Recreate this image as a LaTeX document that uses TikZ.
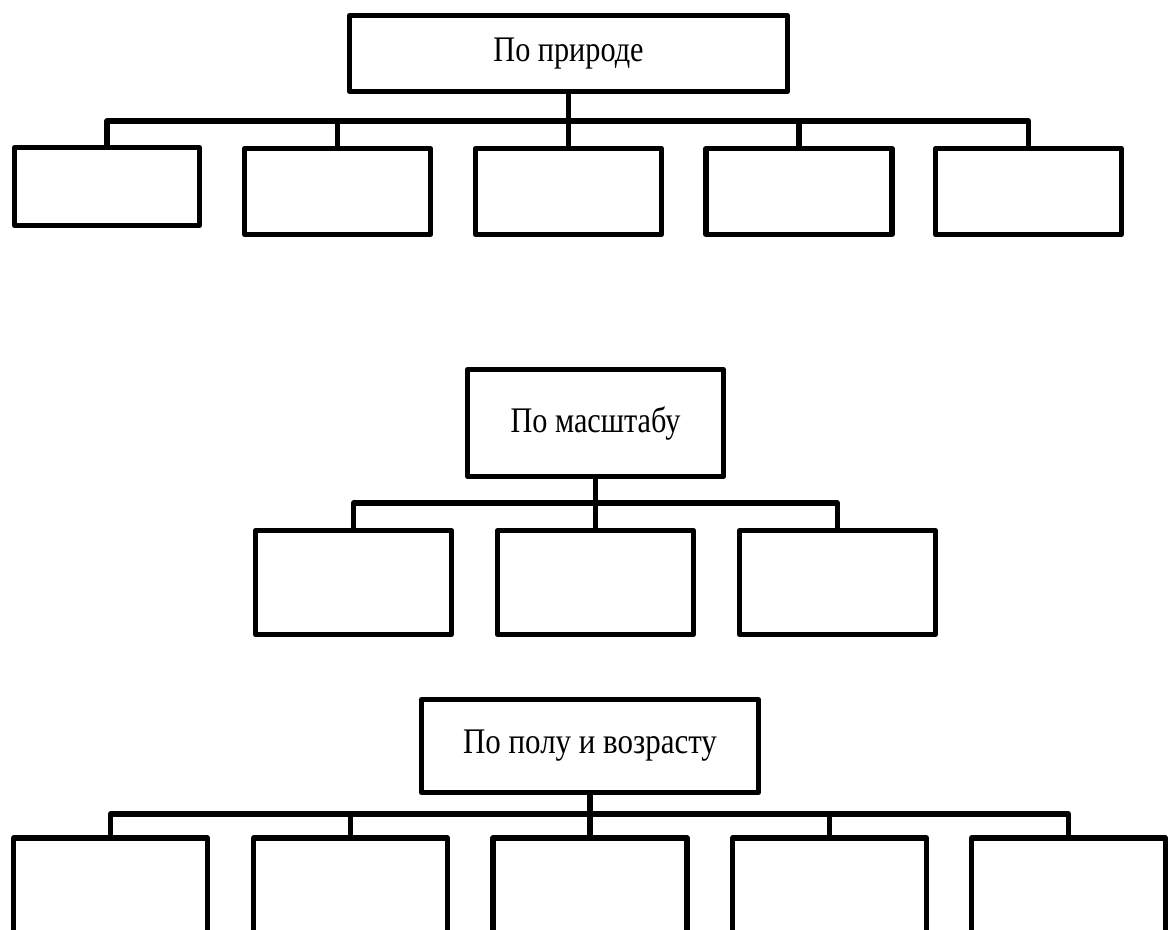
\documentclass[tikz,border=0pt]{standalone}
\usepackage{fontspec}
\setmainfont{Liberation Serif}
\usepackage{tikz}

\begin{document}
\begin{tikzpicture}[x=0.75pt,y=-0.75pt]

\tikzstyle{blk}=[draw,line width=3.8pt,line join=round,inner sep=0pt,font=\fontsize{27}{30}\selectfont]
\tikzstyle{lnk}=[line width=3.8pt,line join=round]

\clip (0,0) rectangle (1173,929);

% po prirode
\node[blk,minimum width=328.5pt,minimum height=57pt] (pr) at (568.5,53.5) {\scalebox{.84}[1]{По природе}};
\node[blk,minimum width=138.75pt,minimum height=58.5pt] (p1) at (107,186.5) {};
\node[blk,minimum width=139.5pt,minimum height=64.5pt] (p2) at (337.5,191.5) {};
\node[blk,minimum width=139.5pt,minimum height=64.5pt] (p3) at (568.5,191.5) {};
\node[blk,minimum width=139.5pt,minimum height=64.5pt] (p4) at (799,191.5) {};
\node[blk,minimum width=139.5pt,minimum height=64.5pt] (p5) at (1028.5,191.5) {};
\coordinate (bp) at (568.5,121);

\draw[lnk] (pr.south) -- (bp);
\draw[lnk] (p1.north) |- (bp) -| (p5.north);
\foreach \k in {2,3,4} \draw[lnk] (p\k.north) -- (p\k.north |- bp);

% po masshtabu
\node[blk,minimum width=192pt,minimum height=80.25pt] (ms) at (595.5,423) {\scalebox{.84}[1]{По масштабу}};
\node[blk,minimum width=147pt,minimum height=78pt] (m1) at (353.5,582.5) {};
\node[blk,minimum width=147pt,minimum height=78pt] (m2) at (595.5,582.5) {};
\node[blk,minimum width=147pt,minimum height=78pt] (m3) at (837.5,582.5) {};
\coordinate (bm) at (595.5,503);

\draw[lnk] (ms.south) -- (bm);
\draw[lnk] (m1.north) |- (bm) -| (m3.north);
\draw[lnk] (m2.north) -- (m2.north |- bm);

% po polu i vozrastu
\node[blk,minimum width=252.75pt,minimum height=69.75pt] (pv) at (590,746) {\scalebox{.86}[1]{По полу и возрасту}};
\node[blk,minimum width=145.5pt,minimum height=121.5pt] (v1) at (110.5,919) {};
\node[blk,minimum width=145.5pt,minimum height=121.5pt] (v2) at (350.5,919) {};
\node[blk,minimum width=145.5pt,minimum height=121.5pt] (v3) at (590,919) {};
\node[blk,minimum width=145.5pt,minimum height=121.5pt] (v4) at (829.5,919) {};
\node[blk,minimum width=145.5pt,minimum height=121.5pt] (v5) at (1068.5,919) {};
\coordinate (bv) at (590,814);

\draw[lnk] (pv.south) -- (bv);
\draw[lnk] (v1.north) |- (bv) -| (v5.north);
\foreach \k in {2,3,4} \draw[lnk] (v\k.north) -- (v\k.north |- bv);

\end{tikzpicture}
\end{document}
